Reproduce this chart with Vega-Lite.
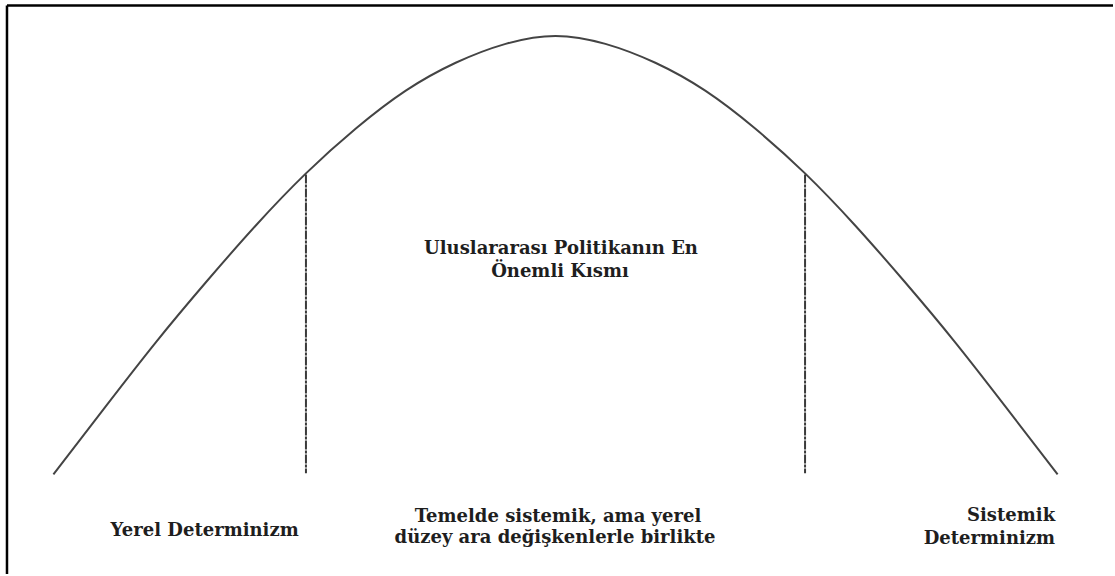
{
  "$schema": "https://vega.github.io/schema/vega-lite/v6.json",
  "width": 1115,
  "height": 576,
  "autosize": {"type": "fit", "contains": "padding"},
  "padding": 0,
  "background": "white",
  "config": {"view": {"stroke": null}},
  "datasets": {
    "curve": [
      {"x": 53.5, "y": 476}, {"x": 106.5, "y": 407}, {"x": 156.5, "y": 343}, {"x": 206.5, "y": 283},
      {"x": 256.5, "y": 226}, {"x": 306.5, "y": 174}, {"x": 356.5, "y": 129}, {"x": 406.5, "y": 91},
      {"x": 456.5, "y": 63}, {"x": 506.5, "y": 44}, {"x": 556.5, "y": 36}, {"x": 606.5, "y": 44},
      {"x": 656.5, "y": 63}, {"x": 706.5, "y": 91}, {"x": 756.5, "y": 129}, {"x": 806.5, "y": 174},
      {"x": 856.5, "y": 226}, {"x": 906.5, "y": 283}, {"x": 956.5, "y": 343}, {"x": 1006.5, "y": 407},
      {"x": 1059.5, "y": 476}
    ],
    "dividers": [
      {"x": 306.5, "y": 175, "x2": 306.5, "y2": 475},
      {"x": 806.5, "y": 175, "x2": 806.5, "y2": 475}
    ],
    "frame": [
      {"x": 7, "y": 5.5, "x2": 7, "y2": 576},
      {"x": 7, "y": 5.5, "x2": 1115, "y2": 5.5}
    ],
    "centerLabels": [
      {"text": "Uluslararası Politikanın En", "x": 562, "y": 255},
      {"text": "Önemli Kısmı", "x": 561, "y": 278},
      {"text": "Yerel Determinizm", "x": 205, "y": 538},
      {"text": "Temelde sistemik, ama yerel", "x": 559, "y": 524},
      {"text": "düzey ara değişkenlerle birlikte", "x": 556, "y": 545}
    ],
    "rightLabels": [
      {"text": "Sistemik", "x": 1057, "y": 523},
      {"text": "Determinizm", "x": 1057, "y": 546}
    ]
  },
  "layer": [
    {
      "data": {"name": "frame"},
      "mark": {"type": "rule", "stroke": "#000000", "strokeWidth": 2.5},
      "encoding": {
        "x": {"field": "x", "type": "quantitative", "scale": {"domain": [0, 1115]}, "axis": null},
        "y": {"field": "y", "type": "quantitative", "scale": {"domain": [0, 576], "reverse": true}, "axis": null},
        "x2": {"field": "x2"},
        "y2": {"field": "y2"}
      }
    },
    {
      "data": {"name": "curve"},
      "mark": {"type": "line", "interpolate": "natural", "stroke": "#444444", "strokeWidth": 2},
      "encoding": {
        "x": {"field": "x", "type": "quantitative", "scale": {"domain": [0, 1115]}, "axis": null},
        "y": {"field": "y", "type": "quantitative", "scale": {"domain": [0, 576], "reverse": true}, "axis": null}
      }
    },
    {
      "data": {"name": "dividers"},
      "mark": {"type": "rule", "stroke": "#3a3a3a", "strokeWidth": 2, "strokeDash": [9, 1, 3, 1]},
      "encoding": {
        "x": {"field": "x", "type": "quantitative", "scale": {"domain": [0, 1115]}, "axis": null},
        "y": {"field": "y", "type": "quantitative", "scale": {"domain": [0, 576], "reverse": true}, "axis": null},
        "x2": {"field": "x2"},
        "y2": {"field": "y2"}
      }
    },
    {
      "data": {"name": "centerLabels"},
      "mark": {"type": "text", "font": "DejaVu Serif", "fontWeight": "bold", "fontSize": 18, "align": "center", "baseline": "alphabetic", "fill": "#1e1e1e"},
      "encoding": {
        "x": {"field": "x", "type": "quantitative", "scale": {"domain": [0, 1115]}, "axis": null},
        "y": {"field": "y", "type": "quantitative", "scale": {"domain": [0, 576], "reverse": true}, "axis": null},
        "text": {"field": "text"}
      }
    },
    {
      "data": {"name": "rightLabels"},
      "mark": {"type": "text", "font": "DejaVu Serif", "fontWeight": "bold", "fontSize": 18, "align": "right", "baseline": "alphabetic", "fill": "#1e1e1e"},
      "encoding": {
        "x": {"field": "x", "type": "quantitative", "scale": {"domain": [0, 1115]}, "axis": null},
        "y": {"field": "y", "type": "quantitative", "scale": {"domain": [0, 576], "reverse": true}, "axis": null},
        "text": {"field": "text"}
      }
    }
  ]
}
